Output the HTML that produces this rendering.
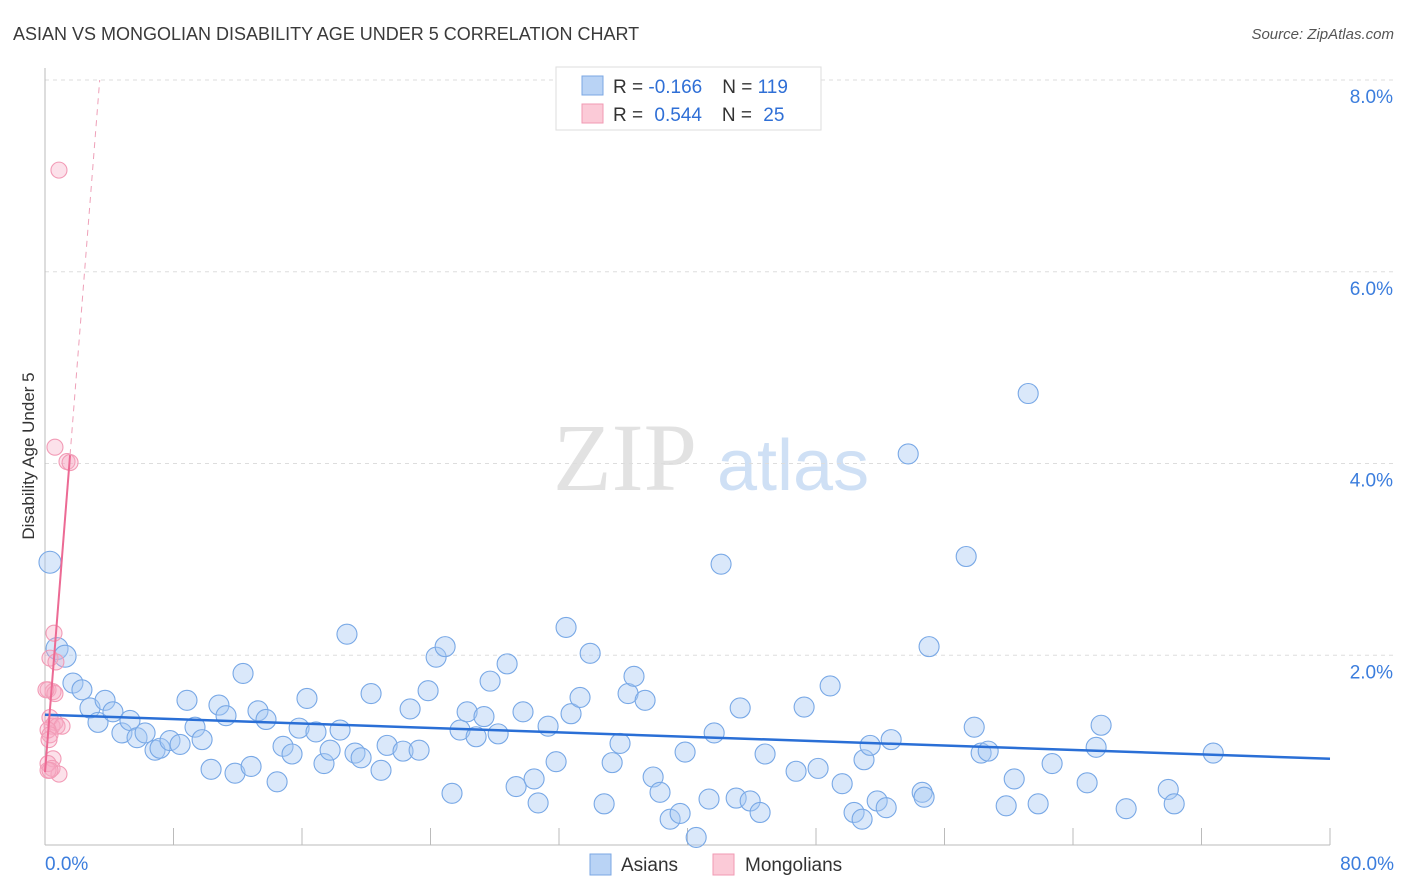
<!DOCTYPE html>
<html><head><meta charset="utf-8"><style>
body{margin:0;background:#fff;font-family:"Liberation Sans",sans-serif}
#wrap{position:relative;width:1406px;height:892px;overflow:hidden}
</style></head><body>
<div id="wrap">
<svg id="svg" width="1406" height="892" xmlns="http://www.w3.org/2000/svg">
<text x="13" y="40" font-size="18" fill="#3a3a3a">ASIAN VS MONGOLIAN DISABILITY AGE UNDER 5 CORRELATION CHART</text>
<text x="1394" y="39" font-size="15" fill="#555" font-style="italic" text-anchor="end">Source: ZipAtlas.com</text>
<text x="0" y="0" font-size="17" fill="#333" transform="translate(34,456) rotate(-90)" text-anchor="middle">Disability Age Under 5</text>
<g>
<text x="553" y="490" font-size="96" font-family="Liberation Serif,serif" fill="#e2e2e2">ZIP</text>
<text x="717" y="490" font-size="72" fill="#cfe0f5">atlas</text>
</g>
<g id="grid"></g><g id="axes"></g><g id="pts"></g><g id="trend"></g>
<g>
<rect x="556" y="67" width="265" height="63" fill="#fff" stroke="#ddd"/>
<rect x="582" y="76" width="21" height="19" fill="#b9d3f5" stroke="#7ba7e3"/>
<rect x="582" y="104" width="21" height="19" fill="#fbcad7" stroke="#f09ab3"/>
<text x="613" y="93" font-size="19" fill="#333">R = <tspan fill="#2f6fd6">-0.166</tspan><tspan dx="20">N = </tspan><tspan fill="#2f6fd6">119</tspan></text>
<text x="613" y="121" font-size="19" fill="#333">R = <tspan fill="#2f6fd6" dx="6">0.544</tspan><tspan dx="20">N = </tspan><tspan fill="#2f6fd6" dx="6">25</tspan></text>
</g>
<g>
<rect x="590" y="854" width="21" height="21" fill="#b9d3f5" stroke="#7ba7e3"/>
<text x="621" y="871" font-size="19" fill="#333">Asians</text>
<rect x="713" y="854" width="21" height="21" fill="#fbcad7" stroke="#f09ab3"/>
<text x="745" y="871" font-size="19" fill="#333">Mongolians</text>
</g>
</svg>
</div>
<script>
const yTicks=[2,4,6,8];
const yTickLabels=["2.0%","4.0%","6.0%","8.0%"];
const xTickLabels=["0.0%","80.0%"];
const asianX=[0.31,0.75,1.25,1.74,2.30,2.80,3.30,3.74,4.23,4.79,5.29,5.73,6.23,6.85,7.16,7.78,8.41,8.84,9.34,9.78,10.34,10.83,11.27,11.83,12.33,12.83,13.26,13.76,14.45,14.82,15.38,15.82,16.31,16.87,17.37,17.75,18.37,18.80,19.30,19.68,20.30,20.92,21.30,22.29,22.73,23.29,23.85,24.35,24.91,25.34,25.84,26.28,26.84,27.33,27.71,28.21,28.77,29.33,29.76,30.45,30.70,31.32,31.82,32.44,32.75,33.31,33.94,34.81,35.31,35.80,36.30,36.67,37.36,37.86,38.29,38.92,39.54,40.54,39.85,41.34,41.66,42.09,43.03,43.28,43.90,44.52,44.83,46.76,47.26,48.13,48.88,49.63,50.37,50.87,50.99,51.37,51.81,52.37,52.68,53.74,54.61,54.73,55.04,57.35,57.85,58.28,58.72,59.84,60.34,61.21,61.83,62.70,64.88,65.44,65.75,67.31,69.93,70.30,72.73];
const asianY=[2.97,2.07,1.99,1.71,1.64,1.45,1.30,1.53,1.41,1.19,1.32,1.14,1.19,1.01,1.03,1.11,1.07,1.53,1.25,1.12,0.81,1.48,1.37,0.77,1.81,0.84,1.42,1.33,0.68,1.05,0.97,1.24,1.55,1.20,0.87,1.01,1.22,2.22,0.98,0.93,1.60,0.80,1.06,1.00,1.44,1.01,1.63,1.98,2.09,0.56,1.22,1.41,1.15,1.36,1.73,1.18,1.91,0.63,1.41,0.71,0.46,1.26,0.89,2.29,1.39,1.56,2.02,0.45,0.88,1.08,1.60,1.78,1.53,0.73,0.57,0.29,0.35,0.10,0.99,0.50,1.19,2.95,0.51,1.45,0.48,0.36,0.97,0.79,1.46,0.82,1.68,0.66,0.36,0.29,0.91,1.06,0.48,0.41,1.12,4.10,0.57,0.52,2.09,3.03,1.25,0.98,1.00,0.43,0.71,4.73,0.45,0.87,0.67,1.04,1.27,0.40,0.60,0.45,0.98];
const mongX=[0.87,0.62,1.37,1.56,0.56,0.31,0.19,0.50,0.62,0.31,0.44,0.62,0.75,1.06,0.19,0.31,0.50,0.19,0.44,0.87,0.19,0.31,0.06,0.68,0.25];
const mongY=[7.06,4.17,4.02,4.01,2.23,1.97,1.64,1.62,1.60,1.35,1.26,1.30,1.26,1.26,1.22,1.17,0.92,0.87,0.82,0.76,0.80,0.80,1.64,1.93,1.12];
const asianTrend=[1.38,0.92];
const mongTrend=[0.78,2.12];
const NS="http://www.w3.org/2000/svg";
const X0=45,X1=1330,Y0=847,YS=95.875;
const sx=v=>X0+(X1-X0)*v/80, sy=v=>Y0-v*YS;
function mk(tag,attrs,parent){const e=document.createElementNS(NS,tag);for(const k in attrs)e.setAttribute(k,attrs[k]);parent.appendChild(e);return e;}
const grid=document.getElementById('grid'),axes=document.getElementById('axes'),pts=document.getElementById('pts'),trend=document.getElementById('trend');
yTicks.forEach((t,i)=>{
 const l=mk('line',{x1:X0,x2:1394,y1:sy(t),y2:sy(t),stroke:'#ddd','stroke-dasharray':'4,4'},grid);
 
 
 const tx=mk('text',{x:1393,y:sy(t)+23,'font-size':19,fill:'#3b7ddd','text-anchor':'end'},grid);
 tx.textContent=yTickLabels[i];
 
 
});
const la=mk('line',{x1:X0,x2:X0,y1:68,y2:845,stroke:'#bbb'},axes);


const lb=mk('line',{x1:X0,x2:X1,y1:845,y2:845,stroke:'#bbb'},axes);


for(let i=0;i<=10;i++){
 const tk=mk('line',{x1:sx(i*8),x2:sx(i*8),y1:828,y2:845,stroke:'#bbb'},axes);
 
 
}
[[0,'start',45],[80,'end',1394]].forEach((d,i)=>{
 const t=mk('text',{x:d[2],y:870,'font-size':19,fill:'#3b7ddd','text-anchor':d[1]},axes);
 t.textContent=xTickLabels[i];
 
 
});
asianX.forEach((x,i)=>{
 const r=(i<3)?11:10;
 const c=mk('circle',{cx:sx(x),cy:sy(asianY[i]),r:r,fill:'rgba(168,200,242,0.42)',stroke:'#78a8e6','stroke-width':1.1},pts);
 
 
});
mongX.forEach((x,i)=>{
 const c=mk('circle',{cx:sx(x),cy:sy(mongY[i]),r:8,fill:'rgba(246,170,194,0.35)',stroke:'#f29bb6','stroke-width':1.1},pts);
 
 
});
const bt=mk('line',{x1:sx(0),y1:sy(asianTrend[0]),x2:sx(80),y2:sy(asianTrend[1]),stroke:'#2a6fd6','stroke-width':2.5},trend);


const xEnd=Math.max(...mongX.slice(0,4));
const mt=mk('line',{x1:sx(0),y1:sy(mongTrend[0]),x2:sx(xEnd),y2:sy(mongTrend[0]+mongTrend[1]*xEnd),stroke:'#ec6a94','stroke-width':2},trend);


const xTop=(8-mongTrend[0])/mongTrend[1];
const md=mk('line',{x1:sx(xEnd),y1:sy(mongTrend[0]+mongTrend[1]*xEnd),x2:sx(xTop),y2:sy(8),stroke:'#eea0b8','stroke-width':1,'stroke-dasharray':'6,5'},trend);


</script>
</body></html>
